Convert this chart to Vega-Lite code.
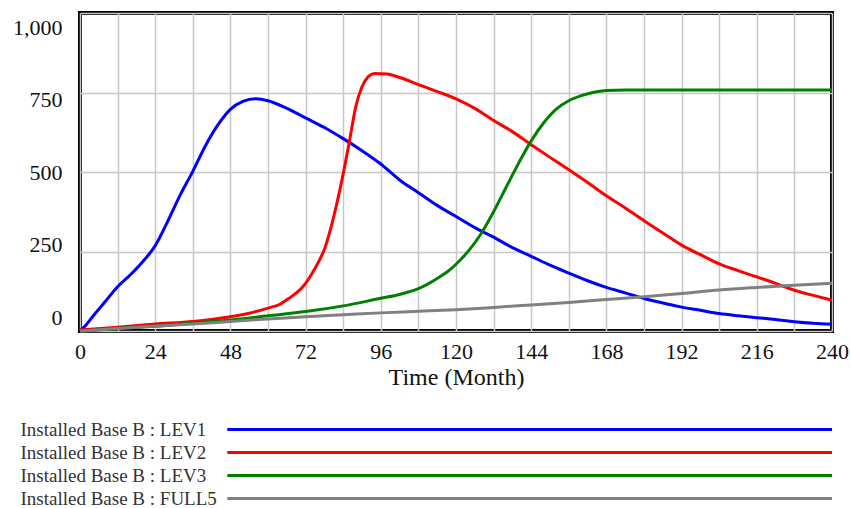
{
  "$schema": "https://vega.github.io/schema/vega-lite/v6.json",
  "padding": {"left": 10, "top": 11, "right": 5, "bottom": 0},
  "background": "white",
  "config": {"font": "Liberation Serif", "view": {"stroke": null}},
  "spacing": 27,
  "datasets": {
    "runs": [
      {"t":0,"s":"LEV1","v":0},{"t":2,"s":"LEV1","v":20},{"t":4,"s":"LEV1","v":45},{"t":8,"s":"LEV1","v":92},{"t":12,"s":"LEV1","v":139},{"t":16,"s":"LEV1","v":176},{"t":20,"s":"LEV1","v":218},{"t":24,"s":"LEV1","v":268},{"t":28,"s":"LEV1","v":345},{"t":32,"s":"LEV1","v":428},{"t":36,"s":"LEV1","v":502},{"t":40,"s":"LEV1","v":582},{"t":44,"s":"LEV1","v":648},{"t":48,"s":"LEV1","v":697},{"t":52,"s":"LEV1","v":722},{"t":56,"s":"LEV1","v":730},{"t":60,"s":"LEV1","v":724},{"t":66,"s":"LEV1","v":700},{"t":72,"s":"LEV1","v":670},{"t":78,"s":"LEV1","v":640},{"t":84,"s":"LEV1","v":605},{"t":90,"s":"LEV1","v":567},{"t":96,"s":"LEV1","v":525},{"t":102,"s":"LEV1","v":475},{"t":108,"s":"LEV1","v":435},{"t":114,"s":"LEV1","v":395},{"t":120,"s":"LEV1","v":360},{"t":126,"s":"LEV1","v":325},{"t":132,"s":"LEV1","v":295},{"t":138,"s":"LEV1","v":262},{"t":144,"s":"LEV1","v":235},{"t":150,"s":"LEV1","v":207},{"t":156,"s":"LEV1","v":182},{"t":162,"s":"LEV1","v":158},{"t":168,"s":"LEV1","v":137},{"t":174,"s":"LEV1","v":120},{"t":180,"s":"LEV1","v":102},{"t":186,"s":"LEV1","v":88},{"t":192,"s":"LEV1","v":75},{"t":198,"s":"LEV1","v":65},{"t":204,"s":"LEV1","v":55},{"t":210,"s":"LEV1","v":48},{"t":216,"s":"LEV1","v":42},{"t":222,"s":"LEV1","v":36},{"t":228,"s":"LEV1","v":29},{"t":234,"s":"LEV1","v":24},{"t":240,"s":"LEV1","v":21},
      {"t":0,"s":"LEV2","v":3},{"t":12,"s":"LEV2","v":12},{"t":24,"s":"LEV2","v":22},{"t":36,"s":"LEV2","v":30},{"t":48,"s":"LEV2","v":45},{"t":54,"s":"LEV2","v":56},{"t":60,"s":"LEV2","v":72},{"t":64,"s":"LEV2","v":85},{"t":66,"s":"LEV2","v":98},{"t":68,"s":"LEV2","v":112},{"t":70,"s":"LEV2","v":128},{"t":72,"s":"LEV2","v":150},{"t":74,"s":"LEV2","v":180},{"t":76,"s":"LEV2","v":215},{"t":78,"s":"LEV2","v":257},{"t":80,"s":"LEV2","v":322},{"t":82,"s":"LEV2","v":402},{"t":84,"s":"LEV2","v":494},{"t":86,"s":"LEV2","v":597},{"t":88,"s":"LEV2","v":705},{"t":90,"s":"LEV2","v":768},{"t":92,"s":"LEV2","v":800},{"t":94,"s":"LEV2","v":810},{"t":98,"s":"LEV2","v":808},{"t":102,"s":"LEV2","v":797},{"t":108,"s":"LEV2","v":775},{"t":114,"s":"LEV2","v":753},{"t":120,"s":"LEV2","v":730},{"t":126,"s":"LEV2","v":700},{"t":132,"s":"LEV2","v":662},{"t":138,"s":"LEV2","v":627},{"t":144,"s":"LEV2","v":586},{"t":150,"s":"LEV2","v":546},{"t":156,"s":"LEV2","v":507},{"t":162,"s":"LEV2","v":467},{"t":168,"s":"LEV2","v":425},{"t":174,"s":"LEV2","v":387},{"t":180,"s":"LEV2","v":347},{"t":186,"s":"LEV2","v":308},{"t":192,"s":"LEV2","v":270},{"t":198,"s":"LEV2","v":240},{"t":204,"s":"LEV2","v":211},{"t":210,"s":"LEV2","v":190},{"t":216,"s":"LEV2","v":170},{"t":222,"s":"LEV2","v":150},{"t":228,"s":"LEV2","v":128},{"t":234,"s":"LEV2","v":112},{"t":240,"s":"LEV2","v":97},
      {"t":0,"s":"LEV3","v":0},{"t":12,"s":"LEV3","v":8},{"t":24,"s":"LEV3","v":15},{"t":36,"s":"LEV3","v":25},{"t":48,"s":"LEV3","v":35},{"t":60,"s":"LEV3","v":48},{"t":72,"s":"LEV3","v":61},{"t":84,"s":"LEV3","v":79},{"t":96,"s":"LEV3","v":103},{"t":102,"s":"LEV3","v":115},{"t":108,"s":"LEV3","v":133},{"t":114,"s":"LEV3","v":165},{"t":118,"s":"LEV3","v":192},{"t":120,"s":"LEV3","v":210},{"t":124,"s":"LEV3","v":252},{"t":128,"s":"LEV3","v":306},{"t":132,"s":"LEV3","v":375},{"t":136,"s":"LEV3","v":452},{"t":140,"s":"LEV3","v":528},{"t":144,"s":"LEV3","v":598},{"t":148,"s":"LEV3","v":655},{"t":152,"s":"LEV3","v":698},{"t":156,"s":"LEV3","v":724},{"t":160,"s":"LEV3","v":740},{"t":164,"s":"LEV3","v":751},{"t":168,"s":"LEV3","v":756},{"t":174,"s":"LEV3","v":758},{"t":200,"s":"LEV3","v":758},{"t":240,"s":"LEV3","v":758},
      {"t":0,"s":"FULL5","v":0},{"t":12,"s":"FULL5","v":8},{"t":24,"s":"FULL5","v":15},{"t":36,"s":"FULL5","v":22},{"t":48,"s":"FULL5","v":30},{"t":60,"s":"FULL5","v":38},{"t":72,"s":"FULL5","v":45},{"t":84,"s":"FULL5","v":51},{"t":96,"s":"FULL5","v":57},{"t":108,"s":"FULL5","v":62},{"t":120,"s":"FULL5","v":67},{"t":132,"s":"FULL5","v":74},{"t":144,"s":"FULL5","v":82},{"t":156,"s":"FULL5","v":90},{"t":168,"s":"FULL5","v":99},{"t":180,"s":"FULL5","v":108},{"t":192,"s":"FULL5","v":118},{"t":204,"s":"FULL5","v":129},{"t":216,"s":"FULL5","v":137},{"t":228,"s":"FULL5","v":144},{"t":240,"s":"FULL5","v":150}
    ],
    "series": [
      {"name": "Installed Base B : LEV1"},
      {"name": "Installed Base B : LEV2"},
      {"name": "Installed Base B : LEV3"},
      {"name": "Installed Base B : FULL5"}
    ]
  },
  "vconcat": [
    {
      "width": 752,
      "height": 318,
      "view": {"stroke": "black", "strokeWidth": 4},
      "data": {"name": "runs"},
      "mark": {"type": "line", "strokeWidth": 3, "interpolate": "monotone"},
      "encoding": {
        "x": {
          "field": "t", "type": "quantitative",
          "scale": {"domain": [0, 240], "nice": false},
          "axis": {
            "values": [0,12,24,36,48,60,72,84,96,108,120,132,144,156,168,180,192,204,216,228,240],
            "labelExpr": "datum.value % 24 === 0 ? datum.label : ''",
            "title": "Time (Month)",
            "ticks": false, "tickSize": 0, "domain": false,
            "grid": true, "gridColor": "#c8c8c8", "gridWidth": 1.5,
            "labelFontSize": 22, "labelPadding": 10, "labelColor": "#111",
            "labelFlush": false, "labelOverlap": false,
            "titleFontSize": 24, "titleFontWeight": "normal", "titlePadding": 3, "titleColor": "#111"
          }
        },
        "y": {
          "field": "v", "type": "quantitative",
          "scale": {"domain": [0, 1000], "nice": false},
          "axis": {
            "values": [0, 250, 500, 750, 1000],
            "format": ",d",
            "title": null,
            "ticks": false, "tickSize": 0, "domain": false,
            "grid": true, "gridColor": "#c8c8c8", "gridWidth": 1.5,
            "labelFontSize": 22, "labelPadding": 18, "labelColor": "#111",
            "labelFlush": false, "labelOverlap": false,
            "labelOffset": {"expr": "(datum.value - 500) * 0.028"}
          }
        },
        "color": {
          "field": "s", "type": "nominal",
          "scale": {"domain": ["LEV1", "LEV2", "LEV3", "FULL5"], "range": ["#0000ff", "#ff0000", "#008000", "#808080"]},
          "legend": null
        }
      }
    },
    {
      "width": 752,
      "height": 92,
      "data": {"name": "series"},
      "mark": {"type": "rule", "strokeWidth": 3},
      "encoding": {
        "x": {"datum": 47, "type": "quantitative", "scale": {"domain": [0, 240], "nice": false}, "axis": null},
        "x2": {"datum": 240},
        "y": {
          "field": "name", "type": "nominal", "sort": null,
          "axis": {
            "title": null, "domain": false, "ticks": false, "tickSize": 0, "grid": false,
            "labelAlign": "left", "labelPadding": 60, "labelFontSize": 19,
            "labelColor": "#333", "labelLimit": 0
          }
        },
        "color": {
          "field": "name", "type": "nominal",
          "scale": {"domain": ["Installed Base B : LEV1", "Installed Base B : LEV2", "Installed Base B : LEV3", "Installed Base B : FULL5"], "range": ["#0000ff", "#ff0000", "#008000", "#808080"]},
          "legend": null
        }
      }
    }
  ]
}
